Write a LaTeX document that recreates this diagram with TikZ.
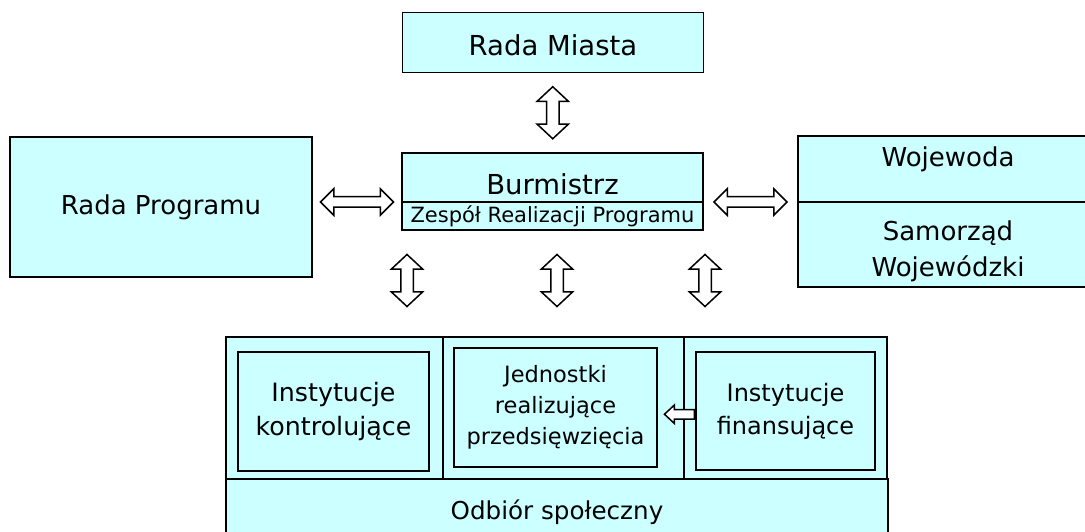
\documentclass[tikz,border=0pt]{standalone}
\usepackage{fontspec}
\setmainfont{DejaVu Sans}
\usetikzlibrary{positioning,calc,shapes.arrows}

\definecolor{boxcyan}{HTML}{CCFFFF}

\newcommand{\fsz}[1]{\fontsize{#1}{1.38\dimexpr #1pt\relax}\selectfont}

\tikzset{
  box/.style={draw=black, fill=boxcyan, line width=1.9pt, outer sep=0pt,
    inner sep=0pt, align=center, font=\fsz{25}},
  txt/.style={align=center, inner sep=0pt},
  vdbl/.style={double arrow, draw=black, fill=white, line width=1.5pt,
    rotate=90, inner xsep=0pt, inner ysep=5.5pt, double arrow head extend=9.5pt,
    double arrow tip angle=94, minimum height=52pt},
  hdbl/.style={double arrow, draw=black, fill=white, line width=1.5pt,
    inner xsep=0pt, inner ysep=4.5pt, double arrow head extend=8pt,
    double arrow tip angle=90, minimum height=73pt},
}

\begin{document}
\begin{tikzpicture}[x=1pt, y=-1pt]
    \useasboundingbox (0,0) rectangle (1085,532);

    % top row
    \node[box, minimum width=301pt, minimum height=60pt,
          label={[txt, font=\fsz{27.5}, yshift=-3pt]center:Rada Miasta}] (miasta) at (553,42.5) {};
    \node[box, minimum width=301pt, minimum height=49pt,
          label={[txt, font=\fsz{27.5}, yshift=-7pt]center:Burmistrz}] (burm) at (552.5,177.5) {};
    \node[box, minimum width=301pt, minimum height=28pt, below=0pt of burm,
          font=\fsz{21}] (zrp) {Zespół Realizacji Programu};

    % left and right boxes
    \node[box, minimum width=302pt, minimum height=140pt, font=\fsz{26}] (program) at (161,207) {Rada Programu};
    \node[box, minimum width=300pt, minimum height=66pt,
          label={[txt, font=\fsz{26}, yshift=10pt]center:Wojewoda}] (woj) at (948,169) {};
    \node[box, minimum width=300pt, minimum height=85pt, below=0pt of woj,
          label={[txt, font=\fsz{26}, yshift=-7pt]center:Samorząd\\Wojewódzki}] (samorzad) {};

    % bottom block
    \node[box, minimum width=661pt, minimum height=142pt] (frame) at (556.5,408) {};
    \node[box, minimum width=662pt, minimum height=66pt, font=\fsz{24.6}] (odbior) at (557,512) {Odbiór społeczny};
    \draw[line width=1.9pt] (443,337) -- (443,479);
    \draw[line width=1.9pt] (684,337) -- (684,479);
    \node[box, minimum width=191pt, minimum height=119pt, font=\fsz{25.3}] (kontr) at (333.5,411.5) {Instytucje\\kontrolujące};
    \node[box, minimum width=203pt, minimum height=119pt, font=\fsz{22.5}] (jedn) at (555.5,407.5) {Jednostki\\realizujące\\przedsięwzięcia};
    \node[box, minimum width=179pt, minimum height=118pt, font=\fsz{24}] (finans) at (785.5,411) {Instytucje\\finansujące};

    % arrows
    \node[vdbl] (a1) at ($(miasta.south)!0.5!(burm.north)$) {};
    \node[hdbl] (a2) at ($(program.east |- zrp.north)!0.5!(zrp.north west)$) {};
    \node[hdbl] (a3) at ($(zrp.north east)!0.5!(samorzad.north west)$) {};
    \node[vdbl] (a4) at (407,280.5) {};
    \node[vdbl] (a5) at (557,280.5) {};
    \node[vdbl] (a6) at (705,280.5) {};
    \node[single arrow, draw=black, fill=white, line width=1.5pt, shape border rotate=180,
          inner xsep=0pt, inner ysep=4pt, single arrow head extend=4.5pt,
          single arrow tip angle=86, minimum height=30pt] (a7)
          at ($(jedn.east)!0.5!(finans.west)+(5.5,5)$) {};
\end{tikzpicture}
\end{document}
